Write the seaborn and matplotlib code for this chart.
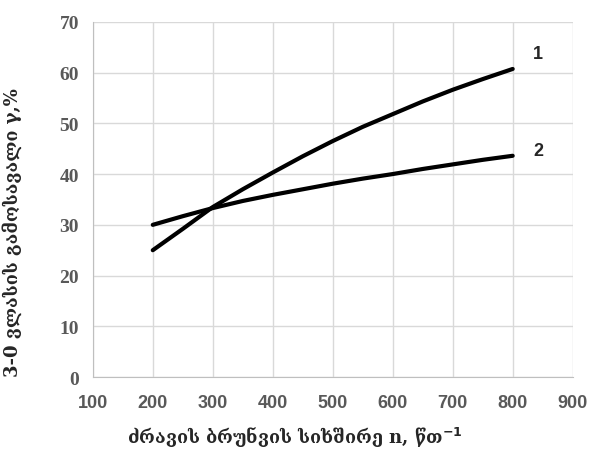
import numpy as np
import pandas as pd
import matplotlib
matplotlib.use('Agg')
import matplotlib.pyplot as plt
import seaborn as sns

# ── data ─────────────────────────────────────────────────────────
freq = [200, 250, 300, 350, 400, 450, 500, 550, 600, 650, 700, 750, 800]
curve1 = [25.0, 29.2, 33.5, 37.0, 40.3, 43.5, 46.5, 49.3, 51.8, 54.3, 56.6, 58.7, 60.7]
curve2 = [30.0, 31.7, 33.3, 34.7, 35.9, 37.0, 38.1, 39.1, 40.0, 41.0, 41.9, 42.8, 43.6]
curve_names = ['1', '2']

x_ticks = [100, 200, 300, 400, 500, 600, 700, 800, 900]
y_ticks = [0, 10, 20, 30, 40, 50, 60, 70]

df = pd.DataFrame({'n': freq * 2,
                   'gamma': curve1 + curve2,
                   'curve': [curve_names[0]] * len(freq) + [curve_names[1]] * len(freq)})

sns.set_style('white')
plt.rcParams['font.family'] = ['DejaVu Serif']
plt.rcParams['mathtext.default'] = 'bf'

fig = plt.figure(figsize=(5.91, 4.64), dpi=100)
ax = fig.add_axes([0.157, 0.185, 0.812, 0.766])

sns.lineplot(data=df, x='n', y='gamma', units='curve', estimator=None,
             color='black', linewidth=3, ax=ax, legend=False)

ax.set_xlim(100, 900)
ax.set_ylim(0, 70)
ax.set_xticks(x_ticks)
ax.set_yticks(y_ticks)
ax.grid(True, color='#d9d9d9', linewidth=1)
ax.set_axisbelow(True)
for s in ax.spines.values():
    s.set_visible(False)
ax.spines['left'].set_visible(True)
ax.spines['left'].set_color('#bfbfbf')
ax.spines['bottom'].set_visible(True)
ax.spines['bottom'].set_color('#bfbfbf')
ax.tick_params(length=0)

for lbl in ax.get_xticklabels():
    lbl.set_fontfamily('Liberation Sans')
    lbl.set_fontweight('bold')
    lbl.set_fontsize(13)
    lbl.set_color('#595959')
for lbl in ax.get_yticklabels():
    lbl.set_fontfamily('Liberation Serif')
    lbl.set_fontweight('bold')
    lbl.set_fontsize(14)
    lbl.set_color('#595959')
ax.tick_params(axis='x', pad=12)
ax.tick_params(axis='y', pad=10)

# curve numbers at the right ends
ax.text(freq[-1] + 42, curve1[-1] + 3, curve_names[0], fontsize=13,
        fontfamily='Liberation Sans', fontweight='bold', ha='center', va='center')
ax.text(freq[-1] + 42, curve2[-1] + 1, curve_names[1], fontsize=13,
        fontfamily='Liberation Sans', fontweight='bold', ha='center', va='center')

ax.set_xlabel('ძრავის ბრუნვის სიხშირე n, წთ$^{-1}$', fontsize=13,
              fontweight='bold', labelpad=8)
ax.xaxis.set_label_coords(0.42, -0.135)
ax.set_ylabel('3-0 ვლასის გამოსავალი γ,%', fontsize=13,
              fontweight='bold', labelpad=8)
ax.yaxis.set_label_coords(-0.147, 0.41)

fig.savefig('out.png', dpi=100)
